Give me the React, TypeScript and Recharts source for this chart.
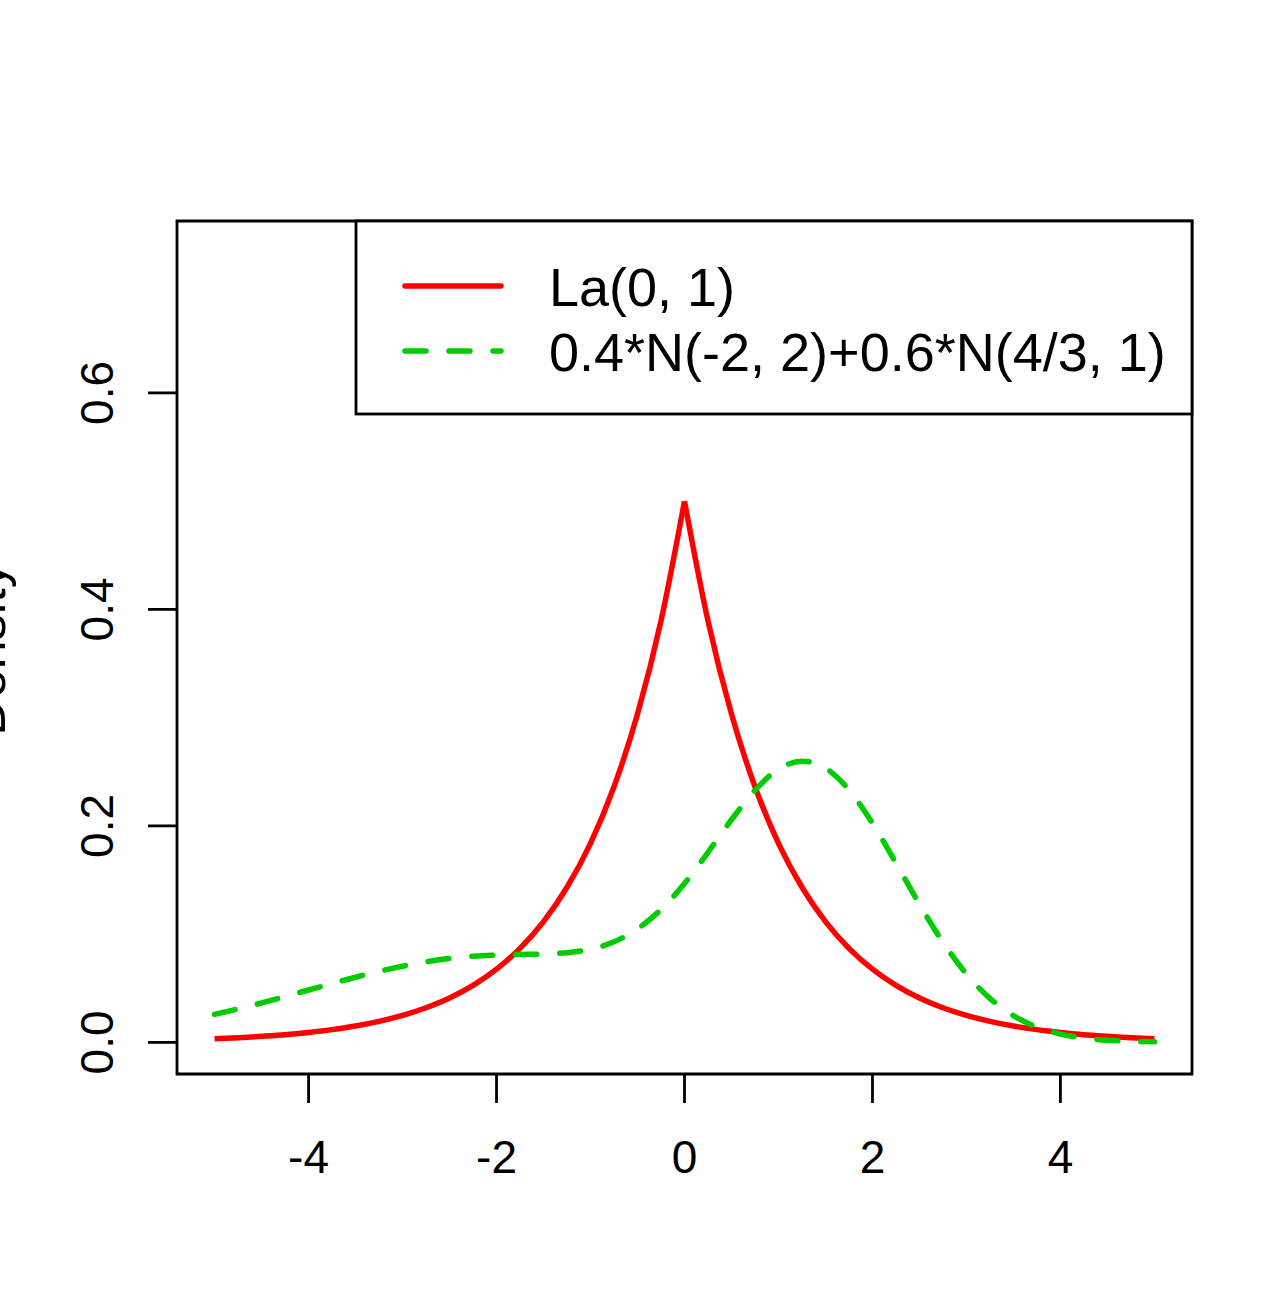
import { LineChart, Line, XAxis, YAxis, ReferenceArea } from 'recharts'

// x grid of the two density curves
const xs = [
  -5, -4.75, -4.5, -4.25, -4, -3.75, -3.5, -3.25, -3, -2.75, -2.5, -2.25, -2, -1.75, -1.5, -1.25, -1,
  -0.75, -0.5, -0.25, 0, 0.25, 0.5, 0.75, 1, 1.25, 1.5, 1.75, 2, 2.25, 2.5, 2.75, 3, 3.25, 3.5, 3.75,
  4, 4.25, 4.5, 4.75, 5,
]

// La(0, 1)
const laplace = [
  0.0034, 0.0043, 0.0056, 0.0071, 0.0092, 0.0118, 0.0151, 0.0194, 0.0249, 0.032, 0.041, 0.0527, 0.0677,
  0.0869, 0.1116, 0.1433, 0.1839, 0.2362, 0.3033, 0.3894, 0.5, 0.3894, 0.3033, 0.2362, 0.1839, 0.1433,
  0.1116, 0.0869, 0.0677, 0.0527, 0.041, 0.032, 0.0249, 0.0194, 0.0151, 0.0118, 0.0092, 0.0071, 0.0056,
  0.0043, 0.0034,
]

// 0.4*N(-2, 2)+0.6*N(4/3, 1)
const mixture = [
  0.0259, 0.031, 0.0365, 0.0424, 0.0484, 0.0544, 0.0602, 0.0657, 0.0704, 0.0744, 0.0775, 0.0796, 0.0807,
  0.0812, 0.0817, 0.0829, 0.0861, 0.093, 0.1048, 0.1228, 0.1468, 0.1755, 0.2057, 0.2329, 0.2524, 0.2598,
  0.2533, 0.2332, 0.2025, 0.1656, 0.1276, 0.0925, 0.0632, 0.0407, 0.0247, 0.0142, 0.0077, 0.004, 0.002,
  0.001, 0.0005,
]

const xTicks = [-4, -2, 0, 2, 4]
const yTicks = [0, 0.2, 0.4, 0.6]
const legendLabels = ['La(0, 1)', '0.4*N(-2, 2)+0.6*N(4/3, 1)']

const xDomain: [number, number] = [-5.4, 5.4]
const yDomain: [number, number] = [-0.0292, 0.7588]

const RED = '#FF0000'
const GREEN = '#00CD00'
const FONT = '"Liberation Sans", Arial, sans-serif'
const LW = 5.5

const rows = xs.map((x, i) => ({ x, laplace: laplace[i], mixture: mixture[i] }))
const leftRows = rows.filter((r) => r.x <= 0)
const rightRows = rows.filter((r) => r.x >= 0)

function XTick({ x, y, payload }: any) {
  return (
    <text x={x} y={y + 70} textAnchor="middle" fontSize={46} fontFamily={FONT} fill="#000">
      {String(payload.value)}
    </text>
  )
}

function YTick({ x, y, payload }: any) {
  const bx = x - 35
  return (
    <text
      x={bx}
      y={y}
      transform={`rotate(-90 ${bx} ${y})`}
      textAnchor="middle"
      fontSize={46}
      fontFamily={FONT}
      fill="#000"
    >
      {Number(payload.value).toFixed(1)}
    </text>
  )
}

export default function App() {
  return (
    <div style={{ position: 'absolute', left: 0, top: 0, width: 1277, height: 1292, background: '#fff' }}>
      <LineChart width={1277} height={1292} margin={{ top: 221, right: 85, bottom: 0, left: 0 }}>
        <XAxis
          type="number"
          dataKey="x"
          domain={xDomain}
          ticks={xTicks}
          interval={0}
          allowDataOverflow
          height={218}
          axisLine={false}
          tickSize={29}
          tickMargin={0}
          tickLine={{ stroke: '#000', strokeWidth: 2.8 }}
          tick={<XTick />}
        />
        <YAxis
          type="number"
          domain={yDomain}
          ticks={yTicks}
          interval={0}
          allowDataOverflow
          width={177}
          axisLine={false}
          tickSize={29}
          tickMargin={0}
          tickLine={{ stroke: '#000', strokeWidth: 2.8 }}
          tick={<YTick />}
        />
        <Line
          data={leftRows}
          dataKey="laplace"
          type="monotoneX"
          stroke={RED}
          strokeWidth={LW}
          dot={false}
          isAnimationActive={false}
        />
        <Line
          data={rightRows}
          dataKey="laplace"
          type="monotoneX"
          stroke={RED}
          strokeWidth={LW}
          dot={false}
          isAnimationActive={false}
        />
        <Line
          data={rows}
          dataKey="mixture"
          type="monotoneX"
          stroke={GREEN}
          strokeWidth={LW}
          strokeDasharray="21 23"
          strokeLinecap="round"
          dot={false}
          isAnimationActive={false}
        />
        <ReferenceArea
          x1={xDomain[0]}
          x2={xDomain[1]}
          y1={yDomain[0]}
          y2={yDomain[1]}
          fill="none"
          fillOpacity={0}
          stroke="#000"
          strokeWidth={2.8}
        />
      </LineChart>
      <svg
        width={1277}
        height={1292}
        style={{ position: 'absolute', left: 0, top: 0, pointerEvents: 'none' }}
      >
        <text
          x={5}
          y={649}
          transform="rotate(-90 5 649)"
          textAnchor="middle"
          fontSize={52}
          fontFamily={FONT}
          fill="#000"
        >
          Density
        </text>
        <rect x={356} y={221} width={836} height={193} fill="#fff" stroke="#000" strokeWidth={2.8} />
        <line x1={405} y1={286} x2={501} y2={286} stroke={RED} strokeWidth={LW} strokeLinecap="round" />
        <line
          x1={405}
          y1={351}
          x2={501}
          y2={351}
          stroke={GREEN}
          strokeWidth={LW}
          strokeDasharray="21 23"
          strokeLinecap="round"
        />
        <text x={549} y={306} fontSize={54} fontFamily={FONT} fill="#000">
          {legendLabels[0]}
        </text>
        <text x={549} y={371} fontSize={54} fontFamily={FONT} fill="#000">
          {legendLabels[1]}
        </text>
      </svg>
    </div>
  )
}
